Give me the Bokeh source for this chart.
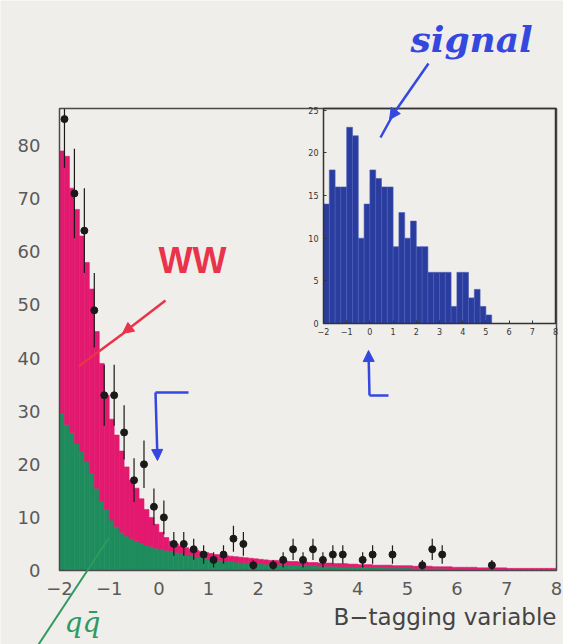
import numpy as np
from bokeh.plotting import figure
from bokeh.models import Range1d, FixedTicker, Label, Arrow, NormalHead, LinearAxis
from bokeh.embed import file_html
from bokeh.resources import INLINE

# ---------------- data ----------------
# Monte Carlo expectation, 0.1-wide bins from -2 to 8 (stacked: qqbar below, WW on top)
mc_start = -2.0
mc_width = 0.1
qq_counts = [29.6, 27.5, 26.0, 24.0, 22.5, 20.5, 18.3, 15.5, 13.0, 11.5,
             9.5, 8.3, 7.2, 6.5, 6.0, 5.6, 5.2, 4.8, 4.5, 4.2,
             4.0, 3.8, 3.6, 3.4, 3.3, 3.0, 2.8, 2.6, 2.5, 2.3,
             2.1, 2.0, 1.9, 1.8, 1.7, 1.6, 1.5, 1.5, 1.4, 1.3,
             1.3, 1.2, 1.2, 1.2, 1.1, 1.1, 1.0, 1.0, 1.0, 0.9,
             0.9, 0.9, 0.8, 0.8, 0.8, 0.8, 0.7, 0.7, 0.7, 0.7,
             0.6, 0.6, 0.6, 0.6, 0.6, 0.5, 0.5, 0.5, 0.5, 0.5,
             0.5, 0.4, 0.4, 0.4, 0.4, 0.4, 0.4, 0.4, 0.3, 0.3,
             0.3, 0.3, 0.3, 0.3, 0.3, 0.3, 0.3, 0.2, 0.2, 0.2,
             0.2, 0.2, 0.2, 0.2, 0.2, 0.2, 0.2, 0.2, 0.2, 0.2]
ww_counts = [49.4, 50.5, 46.0, 44.0, 40.5, 37.5, 34.7, 29.5, 26.0, 21.5,
             19.0, 17.2, 15.3, 13.0, 11.0, 9.9, 8.3, 6.7, 5.5, 4.5,
             3.2, 2.4, 1.9, 1.6, 1.3, 1.3, 1.2, 1.2, 1.1, 1.1,
             1.1, 1.0, 1.0, 1.0, 1.0, 1.0, 1.0, 0.9, 0.9, 0.9,
             0.8, 0.8, 0.7, 0.7, 0.7, 0.7, 0.7, 0.7, 0.6, 0.7,
             0.6, 0.6, 0.6, 0.6, 0.6, 0.5, 0.6, 0.6, 0.5, 0.5,
             0.5, 0.5, 0.5, 0.4, 0.4, 0.5, 0.5, 0.4, 0.4, 0.4,
             0.4, 0.4, 0.4, 0.4, 0.4, 0.3, 0.3, 0.3, 0.4, 0.3,
             0.3, 0.3, 0.3, 0.3, 0.2, 0.2, 0.2, 0.3, 0.3, 0.3,
             0.2, 0.2, 0.2, 0.2, 0.2, 0.2, 0.2, 0.2, 0.2, 0.2]

# Data points (0.2-wide bins: centres and counts)
data_x = [-1.9, -1.7, -1.5, -1.3, -1.1, -0.9, -0.7, -0.5, -0.3, -0.1,
          0.1, 0.3, 0.5, 0.7, 0.9, 1.1, 1.3, 1.5, 1.7, 1.9,
          2.3, 2.5, 2.7, 2.9, 3.1, 3.3, 3.5, 3.7, 4.1, 4.3,
          4.7, 5.3, 5.5, 5.7, 6.7]
data_n = [85, 71, 64, 49, 33, 33, 26, 17, 20, 12,
          10, 5, 5, 4, 3, 2, 3, 6, 5, 1,
          1, 2, 4, 2, 4, 2, 3, 3, 2, 3,
          3, 1, 4, 3, 1]

# Inset: signal expectation, 0.25-wide bins
sig_left = [-2.0, -1.75, -1.5, -1.25, -1.0, -0.75, -0.5, -0.25, 0.0, 0.25,
            0.5, 0.75, 1.0, 1.25, 1.5, 1.75, 2.0, 2.25, 2.5, 2.75,
            3.0, 3.25, 3.5, 3.75, 4.0, 4.25, 4.5, 4.75, 5.0]
sig_width = 0.25
sig_counts = [14, 18, 16, 16, 23, 22, 10, 14, 18, 17,
              16, 16, 9, 13, 10, 12, 9, 9, 6, 6,
              6, 6, 2, 6, 6, 3, 4, 2, 1]

x_ticks = [-2, -1, 0, 1, 2, 3, 4, 5, 6, 7, 8]
x_tick_labels = ["\u22122", "\u22121", "0", "1", "2", "3", "4", "5", "6", "7", "8"]
y_ticks = [0, 10, 20, 30, 40, 50, 60, 70, 80]
inset_y_ticks = [0, 5, 10, 15, 20, 25]

# ---------------- layout constants (pixels) ----------------
W, H = 563, 644
FL, FR, FT, FB = 59, 556, 108, 570          # main plot box
XMIN, XMAX, YMIN, YMAX = -2.0, 8.0, 0.0, 87.0
IL, IR, IT, IB = 323, 555, 108, 323          # inset box
IXMIN, IXMAX, IYMIN, IYMAX = -2.0, 8.0, 0.0, 25.2

BG = "#F0EEEA"
PINK = "#E3196F"
GREEN = "#1E8C5C"
BLUE = "#2A3C9E"
PEN_BLUE = "#3448E0"
PEN_RED = "#E8334A"
PEN_GREEN = "#2E9A60"
FONT = "DejaVu Sans"

sx = (XMAX - XMIN) / (FR - FL)
sy = (YMAX - YMIN) / (FB - FT)
isx = (IXMAX - IXMIN) / (IR - IL)
isy = (IYMAX - IYMIN) / (IB - IT)

def dx(px):
    return XMIN + (px - FL) * sx

def dy(py):
    return YMIN + (FB - py) * sy

def ix(px):
    return IXMIN + (px - IL) * isx

def iy(py):
    return IYMIN + (IB - py) * isy

# The frame fills the whole canvas; the axes sit at fixed data locations.
p = figure(width=W, height=H, x_range=Range1d(dx(0), dx(W)), y_range=Range1d(dy(H), dy(0)),
           output_backend="svg", toolbar_location=None,
           x_axis_location=None, y_axis_location=None,
           min_border_left=0, min_border_right=0, min_border_top=0, min_border_bottom=0)
p.background_fill_color = BG
p.border_fill_color = BG
p.outline_line_color = None
p.grid.visible = False
p.extra_x_ranges = {"ix": Range1d(ix(0), ix(W))}
p.extra_y_ranges = {"iy": Range1d(iy(H), iy(0))}

def style_axis(ax, size, color, standoff):
    ax.axis_line_color = None
    ax.major_tick_line_color = None
    ax.minor_tick_line_color = None
    ax.major_tick_out = 0
    ax.major_label_text_font = FONT
    ax.major_label_text_font_size = size
    ax.major_label_text_color = color
    ax.major_label_standoff = standoff

label_map = {t: l for t, l in zip(x_ticks, x_tick_labels)}

xax = LinearAxis(fixed_location=YMIN, bounds=(XMIN, XMAX), ticker=FixedTicker(ticks=x_ticks),
                 major_label_overrides=label_map)
style_axis(xax, "18px", "#5a5a5a", 11)
p.add_layout(xax, "below")
yax = LinearAxis(fixed_location=XMIN, bounds=(YMIN, YMAX), ticker=FixedTicker(ticks=y_ticks))
style_axis(yax, "18px", "#5a5a5a", 19)
p.add_layout(yax, "left")

# stacked MC histogram
n = len(qq_counts)
left = [mc_start + i * mc_width for i in range(n)]
right = [l + mc_width for l in left]
qq = np.array(qq_counts)
ww = np.array(ww_counts)
p.quad(left=left, right=right, bottom=0, top=qq, fill_color=GREEN, line_color=GREEN, line_width=0.6)
p.quad(left=left, right=right, bottom=qq, top=qq + ww, fill_color=PINK, line_color=PINK, line_width=0.6)

# data points with Poisson errors (cut at the top of the box)
dn = np.array(data_n, dtype=float)
err = np.sqrt(dn)
p.segment(x0=data_x, y0=dn - err, x1=data_x, y1=np.minimum(dn + err, YMAX),
          line_color="#1a1a1a", line_width=1.2)
p.scatter(x=data_x, y=data_n, size=7, color="#1a1a1a")

# main box
p.quad(left=[XMIN], right=[XMAX], bottom=[YMIN], top=[YMAX], fill_color=None,
       line_color="#4a4a4a", line_width=1.5)

# ---------------- inset ----------------
p.quad(left=sig_left, right=[l + sig_width for l in sig_left], bottom=0, top=sig_counts,
       fill_color=BLUE, line_color="#4a5cb8", line_width=0.6,
       x_range_name="ix", y_range_name="iy")
p.quad(left=[IXMIN], right=[IXMAX], bottom=[IYMIN], top=[IYMAX], fill_color=None,
       line_color="#333333", line_width=1.5, x_range_name="ix", y_range_name="iy")
ixax = LinearAxis(x_range_name="ix", y_range_name="iy", fixed_location=IYMIN,
                  bounds=(IXMIN, IXMAX), ticker=FixedTicker(ticks=x_ticks),
                  major_label_overrides=label_map)
style_axis(ixax, "8px", "#333333", 4)
ixax.major_tick_line_color = "#333333"
ixax.major_tick_in = 3
p.add_layout(ixax, "below")
iyax = LinearAxis(x_range_name="ix", y_range_name="iy", fixed_location=IXMIN,
                  bounds=(IYMIN, IYMAX), ticker=FixedTicker(ticks=inset_y_ticks))
style_axis(iyax, "8px", "#333333", 5)
iyax.major_tick_line_color = "#333333"
iyax.major_tick_in = 3
p.add_layout(iyax, "left")

# ---------------- axis title ----------------
p.add_layout(Label(x=dx(556), y=dy(616), text="B\u2212tagging variable", text_align="right",
                   text_baseline="middle", text_font=FONT, text_font_size="23px",
                   text_color="#444444"))

# ---------------- handwritten annotations ----------------
def pen_arrow(x0, y0, x1, y1, color, head=True, width=2.5):
    end = NormalHead(size=11, fill_color=color, line_color=color) if head else None
    p.add_layout(Arrow(x_start=dx(x0), y_start=dy(y0), x_end=dx(x1), y_end=dy(y1),
                       end=end, line_color=color, line_width=width))

# WW
p.add_layout(Label(x=dx(158), y=dy(260), text="WW", text_font="Liberation Sans",
                   text_font_style="bold", text_font_size="36px", text_color=PEN_RED,
                   text_align="left", text_baseline="alphabetic"))
pen_arrow(165, 300, 122, 333, PEN_RED)
pen_arrow(124, 332, 78, 366, PEN_RED, head=False)

# Gamma-shaped arrow
pen_arrow(188, 392, 155, 392, PEN_BLUE, head=False)
pen_arrow(155, 392, 157, 460, PEN_BLUE)

# L-shaped arrow
pen_arrow(388, 395, 369, 395, PEN_BLUE, head=False)
pen_arrow(369, 395, 368, 350, PEN_BLUE)

# signal
p.add_layout(Label(x=dx(410), y=dy(38), text="signal", text_font="DejaVu Serif",
                   text_font_style="bold italic", text_font_size="36px", text_color=PEN_BLUE,
                   text_align="left", text_baseline="alphabetic"))
pen_arrow(428, 63, 389, 119, PEN_BLUE)
pen_arrow(391, 117, 380, 137, PEN_BLUE, head=False)

# q qbar (background)
pen_arrow(38, 644, 108, 538, PEN_GREEN, head=False, width=2)
p.add_layout(Label(x=dx(64), y=dy(622), text="qq\u0304", text_font="DejaVu Serif",
                   text_font_style="italic", text_font_size="28px", text_color=PEN_GREEN,
                   text_align="left", text_baseline="alphabetic"))

open("out.html", "w").write(file_html(p, INLINE))
